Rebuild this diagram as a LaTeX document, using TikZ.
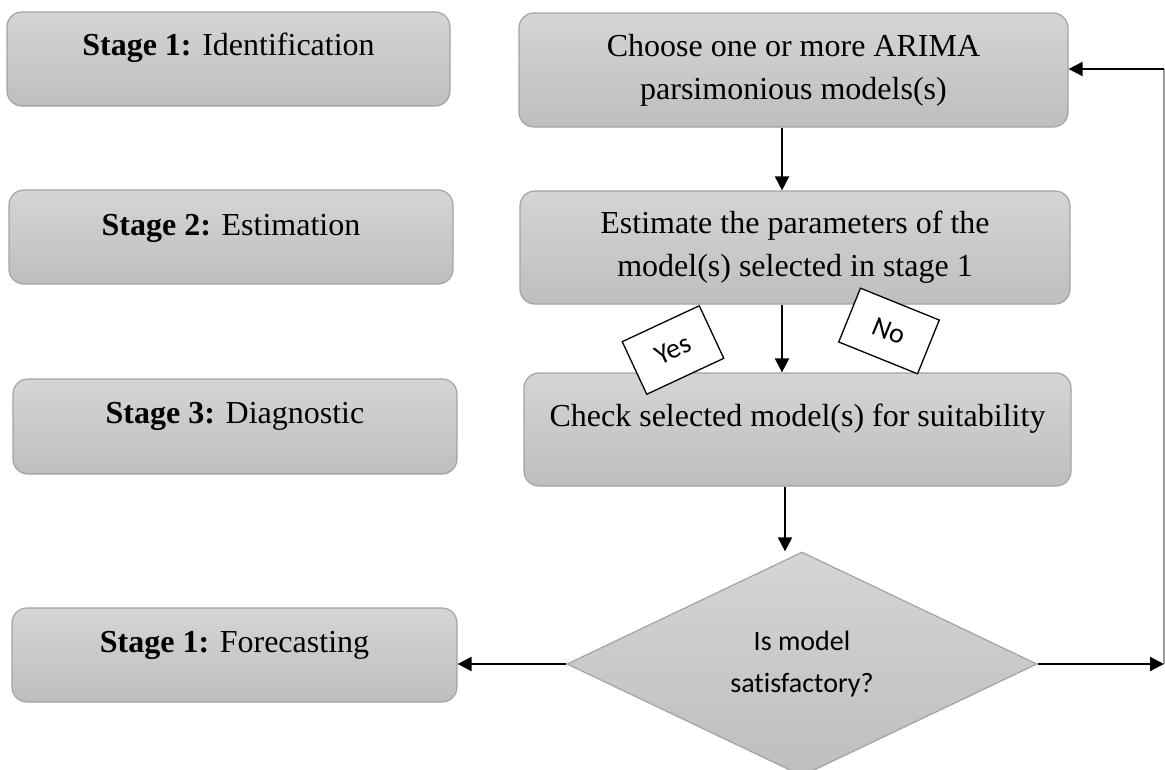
\documentclass[tikz,border=0pt]{standalone}
\usepackage{fontspec}
\setmainfont{Liberation Serif}
\newfontfamily\calib{Carlito}[Ligatures=NoCommon]
\usetikzlibrary{shapes.geometric,arrows.meta}
\definecolor{boxtop}{HTML}{D5D5D5}
\definecolor{boxbot}{HTML}{BEBEBE}
\definecolor{boxedge}{HTML}{A3A3A3}
\definecolor{loopgray}{HTML}{9A9A9A}
\tikzset{
  stagebox/.style={draw=boxedge, line width=1.2pt, rounded corners=15pt,
    top color=boxtop, bottom color=boxbot, inner sep=0pt,
    font=\fontsize{32}{43}\selectfont, align=center},
  decisionbox/.style={diamond, draw=boxedge, line width=1.2pt,
    top color=boxtop, bottom color=boxbot, inner sep=0pt,
    minimum width=470pt, minimum height=224pt,
    font=\calib\fontsize{28}{42}\selectfont, align=center},
  arr/.style={line width=2pt, -{Triangle[length=14pt,width=14pt]}},
  loopline/.style={line width=1.5pt, draw=loopgray},
  tag/.style={draw=black, fill=white, line width=1.3pt,
    minimum width=85pt, minimum height=58pt, inner sep=0pt,
    font=\calib\fontsize{28}{34}\selectfont},
}
\begin{document}
\begin{tikzpicture}[x=1pt,y=-1pt]
\clip (0,0) rectangle (1165,769);
\fill[white] (0,0) rectangle (1165,769);

% left column
\node[stagebox, minimum width=443pt, minimum height=94pt, text height=24pt, text depth=32pt]
  (s1) at (228.5,59) {\textbf{Stage 1:} Identification};
\node[stagebox, minimum width=444pt, minimum height=94pt, text height=24pt, text depth=28pt]
  (s2) at (231,237) {\textbf{Stage 2:} Estimation};
\node[stagebox, minimum width=444pt, minimum height=95pt, text height=24pt, text depth=31pt]
  (s3) at (235,426.5) {\textbf{Stage 3:} Diagnostic};
\node[stagebox, minimum width=445pt, minimum height=94pt, text height=24pt, text depth=30pt]
  (s4) at (234.5,655) {\textbf{Stage 1:} Forecasting};

% right column
\node[stagebox, minimum width=549pt, minimum height=114pt]
  (choose) at (793.5,70) {Choose one or more ARIMA\\parsimonious models(s)};
\node[stagebox, minimum width=550pt, minimum height=113pt]
  (estimate) at (795,247.5) {Estimate the parameters of the\\model(s) selected in stage 1};
\node[stagebox, minimum width=547pt, minimum height=113pt, text height=24pt, text depth=30pt]
  (check) at (797.5,429.5) {Check selected model(s) for suitability};
\node[decisionbox] (dec) at (802,664) {Is model\\satisfactory?};

% arrow columns and loop corners
\coordinate (ax) at (782,0);
\coordinate (bx) at (785,0);
\coordinate (r1) at (1164,664);
\coordinate (r2) at (1164,69);

\draw[arr] (ax |- choose.south) -- (ax |- estimate.north);
\draw[arr] (ax |- estimate.south) -- (ax |- check.north);
\draw[arr] (bx |- check.south) -- (bx |- dec.north);
\draw[arr] (dec.west) -- (s4.east |- dec.west);

\draw[loopline] (r1) -- (r2);
\draw[arr] (dec.east) -- (r1);
\draw[arr] (r2) -- (choose.east |- r2);

% yes / no tags
\node[tag, rotate=25] (yes) at (673,350) {Yes};
\node[tag, rotate=-22] (no) at (889,331) {No};
\end{tikzpicture}
\end{document}
